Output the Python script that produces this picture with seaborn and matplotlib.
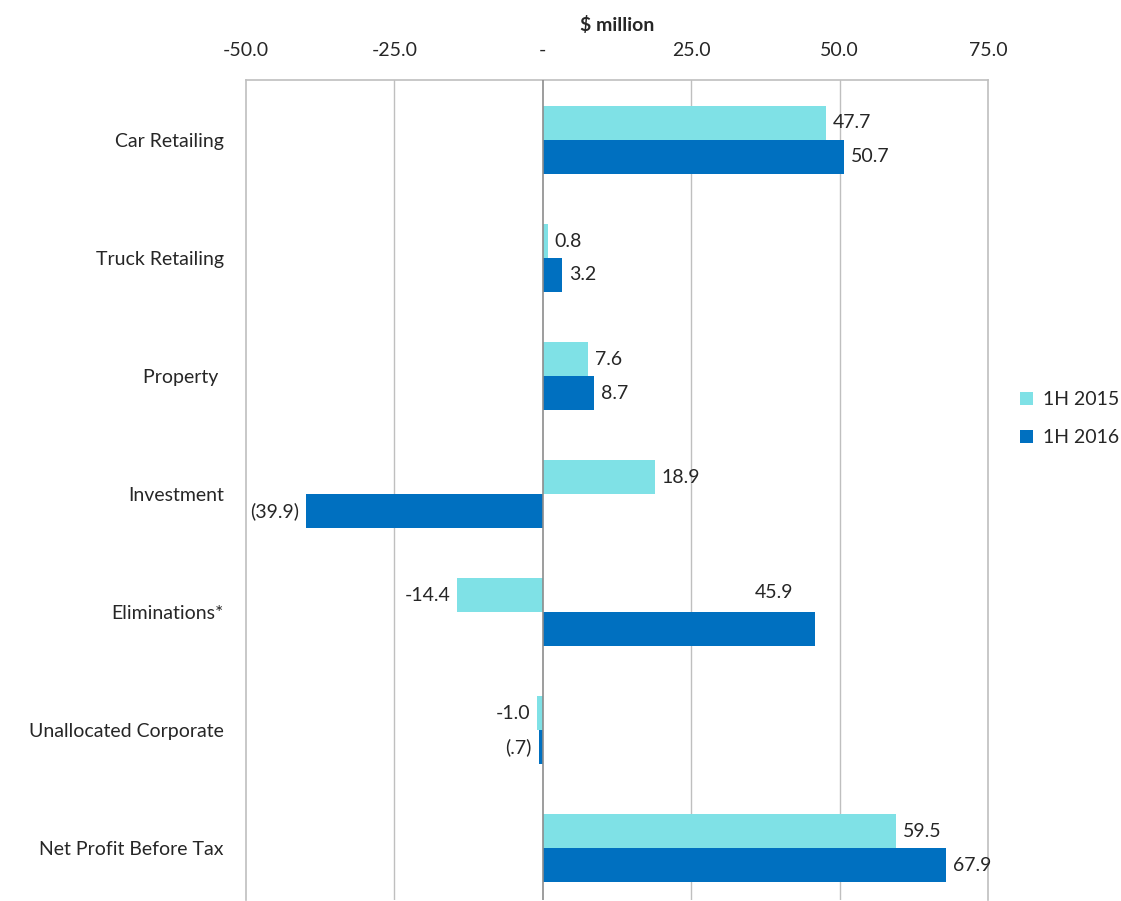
import pandas as pd
import numpy as np
import seaborn as sns
import matplotlib.pyplot as plt
from matplotlib.ticker import FuncFormatter

categories = ["Car Retailing", "Truck Retailing", "Property ", "Investment",
              "Eliminations*", "Unallocated Corporate", "Net Profit Before Tax"]
series = ["1H 2015", "1H 2016"]
values_2015 = [47.7, 0.8, 7.6, 18.9, -14.4, -1.0, 59.5]
values_2016 = [50.7, 3.2, 8.7, -39.9, 45.9, -0.7, 67.9]
labels_2015 = ["47.7", "0.8", "7.6", "18.9", "-14.4", "-1.0", "59.5"]
labels_2016 = ["50.7", "3.2", "8.7", "(39.9)", "45.9", "(.7)", "67.9"]

colors = ["#7FE1E6", "#0070C0"]

df = pd.DataFrame({
    "category": categories * 2,
    "series": [series[0]] * len(categories) + [series[1]] * len(categories),
    "value": values_2015 + values_2016,
})

sns.set_style("white")
plt.rcParams["font.family"] = ["Lato", "DejaVu Sans"]
fs = 14

fig = plt.figure(figsize=(11.21, 9.01), dpi=100)
ax = fig.add_axes([0.2194, 0.001, 0.662, 0.9102])

sns.barplot(data=df, y="category", x="value", hue="series", orient="h",
            palette=colors, width=0.576, ax=ax, saturation=1, errorbar=None,
            linewidth=0)

ax.set_xlim(-50, 75)
ax.set_ylim(6.44, -0.508)
ax.set_xticks([-50, -25, 0, 25, 50, 75])
ax.xaxis.set_major_formatter(FuncFormatter(lambda v, p: "-" if v == 0 else "%.1f" % v))
ax.xaxis.tick_top()
ax.xaxis.set_label_position("top")
ax.set_xlabel("$ million", fontsize=fs, fontweight="bold", labelpad=8)
ax.set_ylabel("")
ax.tick_params(axis="x", length=0, pad=15, labelsize=fs)
ax.tick_params(axis="y", length=0, pad=16, labelsize=fs)

for v in [-25, 25, 50]:
    ax.axvline(v, color="#BFBFBF", lw=1, zorder=0)
ax.axvline(0, color="#8C8C8C", lw=1.2, zorder=3)
for s in ["left", "right", "top"]:
    ax.spines[s].set_color("#BFBFBF")
    ax.spines[s].set_linewidth(1.2)
ax.spines["bottom"].set_visible(False)

all_labels = [labels_2015, labels_2016]
for k, cont in enumerate(ax.containers):
    for i, bar in enumerate(cont):
        val = bar.get_width()
        yc = bar.get_y() + bar.get_height() / 2
        txt = all_labels[k][i]
        if k == 1 and categories[i] == "Eliminations*":
            ax.annotate(txt, (val, yc), xytext=(-16, 26), textcoords="offset points",
                        ha="right", va="center", fontsize=fs)
        elif val >= 0:
            ax.annotate(txt, (val, yc), xytext=(5, 0), textcoords="offset points",
                        ha="left", va="center", fontsize=fs)
        else:
            ax.annotate(txt, (val, yc), xytext=(-5, 0), textcoords="offset points",
                        ha="right", va="center", fontsize=fs)

ax.legend(loc="center left", bbox_to_anchor=(1.02, 0.587), frameon=False,
          fontsize=fs, handlelength=0.65, handleheight=0.65, labelspacing=1.05,
          handletextpad=0.5)

fig.savefig("out.png", dpi=100)
